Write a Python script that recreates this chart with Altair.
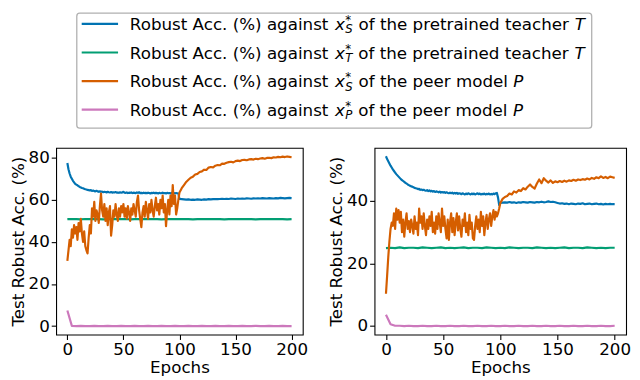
import altair as alt
import pandas as pd

# ---------------- data ----------------
EPOCHS_A = list(range(0, 101)) + list(range(102, 201, 2))   # 151 epochs
EPOCHS_G = list(range(0, 201, 4))                            # 51 epochs

L_BLUE = [
    77.5, 74.5, 72.5, 71.0, 70.0, 69.0, 68.3, 67.6, 67.2, 66.9,
    66.5, 66.1, 65.9, 65.6, 65.5, 65.2, 65.0, 64.9, 64.7, 64.6,
    64.5, 64.6, 64.2, 64.4, 64.1, 64.0, 64.3, 64.0, 63.8, 64.0,
    63.8, 63.9, 63.6, 63.8, 63.7, 63.5, 63.8, 63.6, 63.5, 63.7,
    63.4, 63.6, 63.5, 63.7, 63.4, 63.5, 63.3, 63.6, 63.4, 63.5,
    63.8, 63.4, 63.3, 63.5, 63.2, 63.4, 63.3, 63.5, 63.2, 63.4,
    63.3, 63.2, 63.5, 63.3, 63.6, 63.2, 63.3, 63.1, 63.4, 63.2,
    63.3, 63.1, 63.4, 63.2, 63.0, 63.3, 63.2, 63.4, 63.1, 63.3,
    63.2, 63.0, 63.3, 63.1, 63.2, 63.4, 63.1, 63.2, 63.0, 63.3,
    63.1, 63.2, 63.0, 63.3, 63.1, 63.2, 63.0, 63.2, 63.1, 63.0,
    60.4,
    60.3, 60.2, 60.1, 60.2, 60.0, 60.1, 60.0, 60.2, 60.1, 60.0,
    60.2, 60.1, 60.3, 60.2, 60.3, 60.4, 60.3, 60.4, 60.5, 60.4,
    60.5, 60.4, 60.6, 60.5, 60.4, 60.6, 60.5, 60.6, 60.5, 60.7,
    60.6, 60.5, 60.7, 60.6, 60.7, 60.6, 60.8, 60.7, 60.6, 60.8,
    60.7, 60.6, 60.8, 60.7, 60.9, 60.8, 60.7, 60.8, 60.9, 60.8,
]
L_GREEN = [
    50.8, 50.9, 50.8, 50.7, 50.9, 50.8, 50.9, 50.8, 50.7, 50.8,
    50.9, 50.8, 50.8, 50.9, 50.7, 50.8, 50.9, 50.8, 50.8, 50.9,
    50.8, 50.7, 50.8, 50.9, 50.8, 50.8, 50.9, 50.8, 50.7, 50.8,
    50.9, 50.8, 50.8, 50.9, 50.8, 50.7, 50.8, 50.9, 50.8, 50.8,
    50.9, 50.8, 50.7, 50.8, 50.9, 50.8, 50.8, 50.9, 50.8, 50.7,
    50.8,
]
L_ORANGE = [
    31.0, 36.0, 41.0, 38.0, 46.0, 42.0, 48.0, 44.0, 47.0, 41.0,
    49.0, 45.0, 51.0, 44.0, 40.0, 45.0, 38.0, 36.0, 34.5, 42.0,
    48.0, 44.0, 56.0, 52.0, 59.0, 50.0, 55.0, 53.0, 49.0, 57.0,
    63.0, 55.0, 52.0, 58.0, 50.0, 56.0, 48.0, 54.0, 57.0, 43.0,
    48.0, 55.0, 52.0, 58.0, 53.0, 50.0, 56.0, 52.0, 57.0, 54.0,
    58.0, 52.0, 56.0, 51.0, 57.0, 54.0, 50.0, 56.0, 53.0, 58.0,
    55.0, 52.0, 59.0, 62.0, 55.0, 51.0, 47.0, 54.0, 57.0, 52.0,
    59.0, 55.0, 51.0, 58.0, 54.0, 60.0, 55.0, 52.0, 57.0, 61.0,
    55.0, 58.0, 53.0, 60.0, 56.0, 62.0, 54.0, 58.0, 47.5, 55.0,
    60.0, 53.0, 62.0, 57.0, 67.0, 58.0, 62.0, 53.0, 56.0, 60.0,
    63.5,
    65.5, 67.0, 68.5, 69.5, 70.5, 71.0, 72.0, 72.3, 73.2, 73.5,
    74.3, 74.2, 75.3, 75.6, 75.4, 76.2, 76.5, 76.4, 77.2, 77.1,
    77.6, 77.9, 78.1, 77.8, 78.4, 78.6, 78.4, 78.9, 79.0, 78.8,
    79.2, 79.3, 79.1, 79.5, 79.3, 79.6, 79.8, 79.5, 79.9, 80.0,
    79.8, 80.2, 80.1, 80.4, 80.2, 80.5, 80.3, 80.6, 80.4, 80.2,
]
L_PINK = [
    7.4, 0.1, 0.0, 0.1, 0.0, 0.0, 0.1, 0.0, 0.0, 0.1,
    0.0, 0.0, 0.1, 0.0, 0.0, 0.1, 0.0, 0.0, 0.1, 0.0,
    0.0, 0.1, 0.0, 0.0, 0.1, 0.0, 0.0, 0.1, 0.0, 0.0,
    0.1, 0.0, 0.0, 0.1, 0.0, 0.0, 0.1, 0.0, 0.0, 0.1,
    0.0, 0.0, 0.1, 0.0, 0.0, 0.1, 0.0, 0.0, 0.1, 0.0,
    0.0,
]

R_BLUE = [
    54.2, 53.3, 52.6, 51.9, 51.2, 50.6, 50.0, 49.5, 49.0, 48.5,
    48.1, 47.7, 47.3, 46.9, 46.6, 46.3, 46.0, 45.7, 45.5, 45.2,
    45.0, 44.8, 44.6, 44.5, 44.3, 44.1, 44.0, 43.9, 43.7, 43.8,
    43.5, 43.6, 43.4, 43.5, 43.3, 43.2, 43.4, 43.1, 43.3, 43.0,
    43.2, 42.9, 43.1, 42.8, 43.0, 42.9, 42.7, 42.9, 42.6, 42.8,
    42.6, 42.8, 42.5, 42.7, 42.5, 42.4, 42.6, 42.4, 42.6, 42.3,
    42.5, 42.3, 42.5, 42.2, 42.4, 42.3, 42.1, 42.4, 42.2, 42.0,
    42.3, 42.1, 42.4, 42.2, 42.0, 42.3, 42.1, 42.3, 42.0, 42.2,
    42.4, 42.1, 42.3, 42.0, 42.2, 42.1, 42.3, 42.0, 42.2, 42.1,
    42.3, 42.0, 42.2, 42.0, 42.3, 42.1, 42.4, 42.5, 41.0, 38.6,
    39.3,
    39.4, 39.5, 39.4, 39.6, 39.4, 39.5, 39.3, 39.5, 39.4, 39.6,
    39.5, 39.4, 39.6, 39.5, 39.4, 39.6, 39.5, 39.7, 39.5, 39.6,
    39.8, 39.6, 39.7, 39.5, 39.3, 39.1, 39.2, 39.0, 39.1, 38.9,
    39.1, 39.0, 38.9, 39.1, 39.0, 39.2, 38.9, 39.0, 39.1, 38.9,
    39.0, 39.1, 38.9, 39.0, 38.8, 39.0, 38.9, 39.0, 38.9, 38.9,
]
R_GREEN = [
    24.9, 25.0, 24.9, 25.1, 24.9, 25.0, 25.0, 24.9, 25.1, 25.0,
    24.9, 25.0, 25.1, 24.9, 25.0, 24.9, 25.0, 25.1, 24.9, 25.0,
    25.0, 24.9, 25.1, 25.0, 24.9, 25.0, 24.9, 25.1, 25.0, 24.9,
    25.0, 25.0, 24.9, 25.1, 25.0, 24.9, 25.0, 24.9, 25.0, 25.1,
    24.9, 25.0, 25.0, 24.9, 25.1, 25.0, 24.9, 25.0, 24.9, 25.0,
    25.0,
]
R_ORANGE = [
    10.3, 16.0, 22.0, 27.0, 31.0, 33.0, 32.0, 36.0, 31.0, 37.5,
    34.0, 37.0, 33.0, 36.5, 30.0, 34.0, 28.5, 33.0, 36.0, 31.0,
    33.5, 30.0, 34.0, 32.0, 29.5, 35.0, 31.0, 33.0, 29.0, 37.5,
    33.0, 35.0, 31.0, 36.0, 32.0, 29.0, 34.0, 31.0, 35.0, 32.0,
    36.5, 30.0, 33.0, 29.5, 35.0, 31.0, 36.0, 33.0, 30.0, 37.5,
    32.0, 35.0, 31.0, 28.0, 34.0, 27.5, 33.0, 36.0, 30.0, 34.5,
    29.0, 33.0, 36.0, 30.5, 35.0, 31.0, 28.5, 34.0, 32.0, 36.0,
    30.0, 33.0, 29.0, 35.5, 31.0, 33.0, 28.0, 27.5, 32.0, 35.0,
    31.0, 34.0, 30.0, 36.5, 32.0, 35.0, 29.0, 33.0, 35.5, 31.0,
    34.0, 36.0, 32.0, 35.0, 37.0, 34.0, 36.5, 35.0, 36.0, 37.5,
    39.3,
    40.6, 41.2, 41.5, 42.3, 42.0, 43.0, 42.6, 43.4, 43.1, 44.0,
    43.6, 44.5, 45.2, 44.4, 43.9, 45.5, 46.8, 45.6, 47.2, 46.4,
    45.8, 46.5, 45.7, 46.2, 45.9, 46.3, 46.0, 46.4, 46.1, 46.5,
    46.3, 46.7, 46.4, 46.8, 46.6, 46.9, 46.7, 47.1, 46.8, 47.3,
    47.0, 47.5, 47.2, 47.8, 47.3, 47.6, 47.2, 47.7, 47.5, 47.3,
]
R_PINK = [
    3.6, 0.6, 0.1, 0.1, 0.0, 0.1, 0.0, 0.0, 0.1, 0.0,
    0.0, 0.1, 0.0, 0.0, 0.1, 0.0, 0.0, 0.1, 0.0, 0.0,
    0.1, 0.0, 0.0, 0.1, 0.0, 0.0, 0.1, 0.0, 0.0, 0.1,
    0.0, 0.0, 0.1, 0.0, 0.0, 0.1, 0.0, 0.0, 0.1, 0.0,
    0.0, 0.1, 0.0, 0.0, 0.1, 0.0, 0.0, 0.1, 0.0, 0.0,
    0.1,
]

COLORS = ["#0173B2", "#029E73", "#D55E00", "#CC78BC"]
X_TICKS = [0, 50, 100, 150, 200]
L_Y_TICKS = [0, 20, 40, 60, 80]
R_Y_TICKS = [0, 20, 40]
L_Y_DOMAIN = [-4.0, 84.7]
R_Y_DOMAIN = [-2.7, 56.9]
X_DOMAIN = [-10, 210]

LEG_HEAD = "Robust Acc. (%) against"
LEG_ROWS = [
    ("S", "of the pretrained teacher", "T"),
    ("T", "of the pretrained teacher", "T"),
    ("S", "of the peer model", "P"),
    ("P", "of the peer model", "P"),
]

FONT = "DejaVu Sans"
FS = 17

# DejaVu Sans advance widths (units per em = 2048), for laying out legend text
ADV = {" ": 651, "R": 1423, "o": 1253, "b": 1300, "u": 1298, "s": 1067, "t": 803,
       "A": 1401, "c": 1126, ".": 651, "(": 799, "%": 1946, ")": 799, "a": 1255,
       "g": 1300, "i": 569, "n": 1298, "f": 721, "h": 1298, "e": 1260, "p": 1300,
       "r": 842, "d": 1300, "l": 569, "m": 1995, "T": 1251, "S": 1300, "P": 1235,
       "x": 1212, "*": 1024}


def tw(s, size):
    return sum(ADV[c] for c in s) / 2048.0 * size


# ---------------- layout (pixels) ----------------
PLOT_H = 190
LEFT_W = 251
RIGHT_W = 256
GAP = 73
X0 = 54.0    # expected page x of left plot area
Y0 = 145.0   # expected page y of plot areas


def rel_x(px):
    return px - X0


def rel_y(py):
    return py - Y0


one = alt.Data(values=[{"k": 0}])
legend_layers = []
legend_layers.append(
    alt.Chart(one).mark_rect(fill="white", stroke="#b0b0b0", strokeWidth=1.3, cornerRadius=3).encode(
        x=alt.value(rel_x(75)), x2=alt.value(rel_x(599)),
        y=alt.value(rel_y(8)), y2=alt.value(rel_y(125)))
)
ROW_CY = [18.8, 48.0, 77.2, 106.2]
SUB_FS = FS * 0.7
SPACE = tw(" ", FS)
for i, (sub, tail, end) in enumerate(LEG_ROWS):
    cy = ROW_CY[i]
    base = cy + 6.3
    legend_layers.append(
        alt.Chart(one).mark_rule(color=COLORS[i], strokeWidth=2.2).encode(
            x=alt.value(rel_x(80)), x2=alt.value(rel_x(117)), y=alt.value(rel_y(cy)))
    )
    x = 129.0
    frags = []
    frags.append((LEG_HEAD, x, base, FS, "normal"))
    x += tw(LEG_HEAD, FS) + SPACE
    frags.append(("x", x, base, FS, "italic"))
    x += tw("x", FS) + 0.5
    frags.append(("*", x, base - 6.0, SUB_FS, "normal"))
    frags.append((sub, x, base + 3.5, SUB_FS, "italic"))
    x += max(tw("*", SUB_FS), tw(sub, SUB_FS)) + 0.5 + SPACE
    frags.append((tail, x, base, FS, "normal"))
    x += tw(tail, FS) + SPACE
    frags.append((end, x, base, FS, "italic"))
    for txt, fx, fy, fs, style in frags:
        legend_layers.append(
            alt.Chart(one).mark_text(align="left", baseline="alphabetic", font=FONT,
                                     fontSize=fs, fontStyle=style, color="black").encode(
                x=alt.value(rel_x(fx)), y=alt.value(rel_y(fy)), text=alt.value(txt))
        )


def panel(blue, green, orange, pink, ydom, yticks, width, extra=()):
    x_enc = alt.X("epoch:Q", scale=alt.Scale(domain=X_DOMAIN, nice=False, zero=False),
                  axis=alt.Axis(values=X_TICKS, format="d", title="Epochs", titlePadding=3))
    y_enc = alt.Y("acc:Q", scale=alt.Scale(domain=ydom, nice=False, zero=False),
                  axis=alt.Axis(values=yticks, format="d", title="Test Robust Acc. (%)", titlePadding=1))
    layers = list(extra)
    for ep, vals, col in [(EPOCHS_A, blue, COLORS[0]), (EPOCHS_G, green, COLORS[1]),
                          (EPOCHS_A, orange, COLORS[2]), (EPOCHS_G, pink, COLORS[3])]:
        df = pd.DataFrame({"epoch": ep, "acc": vals})
        layers.append(alt.Chart(df).mark_line(color=col, strokeWidth=2.2, strokeJoin="round").encode(
            x=x_enc, y=y_enc))
    return alt.layer(*layers).properties(width=width, height=PLOT_H)


left = panel(L_BLUE, L_GREEN, L_ORANGE, L_PINK, L_Y_DOMAIN, L_Y_TICKS, LEFT_W, legend_layers)
right = panel(R_BLUE, R_GREEN, R_ORANGE, R_PINK, R_Y_DOMAIN, R_Y_TICKS, RIGHT_W)

chart = alt.hconcat(left, right, spacing=GAP, bounds="flush").properties(
    padding=0
).configure(font=FONT).configure_view(
    stroke="black", strokeWidth=1.1
).configure_axis(
    domain=False, grid=False, ticks=True, tickColor="black", tickSize=5, tickWidth=1.1,
    labelColor="black", labelFont=FONT, labelFontSize=FS, labelPadding=2,
    titleColor="black", titleFont=FONT, titleFontSize=FS, titleFontWeight="normal",
)

chart.save("out.html", embed_options={"renderer": "svg", "actions": False})
